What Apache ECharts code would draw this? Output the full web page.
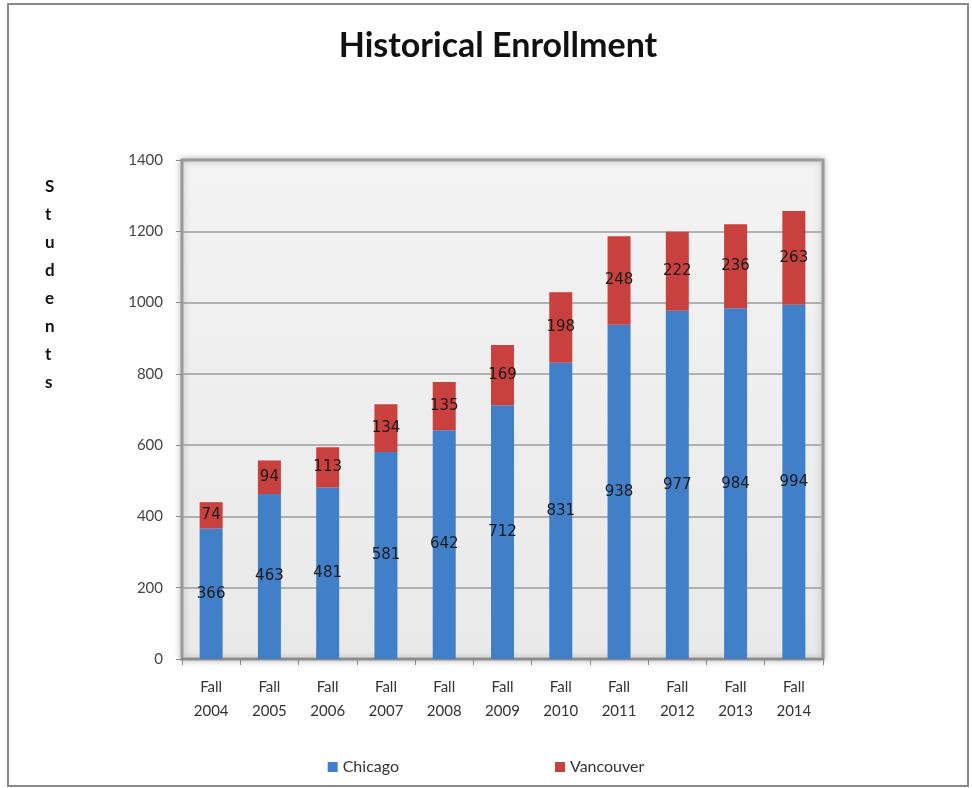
<!DOCTYPE html>
<html>
<head>
<meta charset="utf-8">
<script src="https://cdn.jsdelivr.net/npm/echarts@6/dist/echarts.min.js"></script>
<style>
html,body{margin:0;padding:0;background:#fff;}
#chart{width:972px;height:788px;}
</style>
</head>
<body>
<div id="chart"></div>
<script>
const categories = ['Fall\n2004','Fall\n2005','Fall\n2006','Fall\n2007','Fall\n2008','Fall\n2009','Fall\n2010','Fall\n2011','Fall\n2012','Fall\n2013','Fall\n2014'];
const chicago = [366,463,481,581,642,712,831,938,977,984,994];
const vancouver = [74,94,113,134,135,169,198,248,222,236,263];
const yTicks = [0,200,400,600,800,1000,1200,1400];

const chart = echarts.init(document.getElementById('chart'));
const labelStyle = {show:true, position:'inside', color:'#1a1a1a', fontSize:15, fontFamily:'DejaVu Sans'};
chart.setOption({
  backgroundColor:'#ffffff',
  animation:false,
  title:{
    text:'Historical Enrollment',
    left:493, textAlign:'center', top:24,
    textStyle:{fontFamily:'Lato', fontWeight:'bold', fontSize:34, color:'#111'}
  },
  graphic:[
    {type:'rect', shape:{x:8,y:4,width:960,height:782}, style:{fill:'none', stroke:'#8a8a8a', lineWidth:2}, silent:true, z:-1},
    {type:'text', left:45, top:173, style:{text:'S\nt\nu\nd\ne\nn\nt\ns', fontFamily:'Lato', fontWeight:'bold', fontSize:17, lineHeight:28, fill:'#111', align:'center'}}
  ],
  legend:{
    bottom:8, left:'center', itemGap:156, itemWidth:10, itemHeight:10,
    icon:'rect',
    textStyle:{fontFamily:'Lato', fontSize:16, color:'#333'},
    data:['Chicago','Vancouver']
  },
  grid:{
    left:182, right:149, top:160, bottom:129,
    show:true,
    borderColor:'#9a9a9a', borderWidth:3,
    backgroundColor:new echarts.graphic.LinearGradient(0,0,0,1,[{offset:0,color:'#f3f3f3'},{offset:1,color:'#e9e9e9'}]),
    shadowColor:'rgba(0,0,0,0.25)', shadowBlur:6
  },
  xAxis:{
    type:'category',
    data:categories,
    axisLine:{show:true, lineStyle:{color:'#8a8a8a', width:2}},
    axisTick:{show:true, alignWithLabel:false, length:6, lineStyle:{color:'#8a8a8a'}},
    axisLabel:{color:'#333', fontFamily:'Lato', fontSize:15, lineHeight:24, margin:16, interval:0}
  },
  yAxis:{
    type:'value', min:0, max:1400, interval:200,
    axisLine:{show:false},
    axisTick:{show:true, length:6, lineStyle:{color:'#8a8a8a'}},
    axisLabel:{color:'#444', fontFamily:'Lato', fontSize:15, margin:19,
      formatter:function(v){return yTicks.indexOf(v)>=0 ? String(v) : '';}},
    splitLine:{show:true, lineStyle:{color:'#9c9c9c', width:1.5}}
  },
  series:[
    {name:'Chicago', type:'bar', stack:'total', data:chicago, barWidth:23,
     itemStyle:{color:'#4180c8'}, label:labelStyle},
    {name:'Vancouver', type:'bar', stack:'total', data:vancouver, barWidth:23,
     itemStyle:{color:'#c9413e'}, label:labelStyle}
  ]
});
</script>
</body>
</html>
